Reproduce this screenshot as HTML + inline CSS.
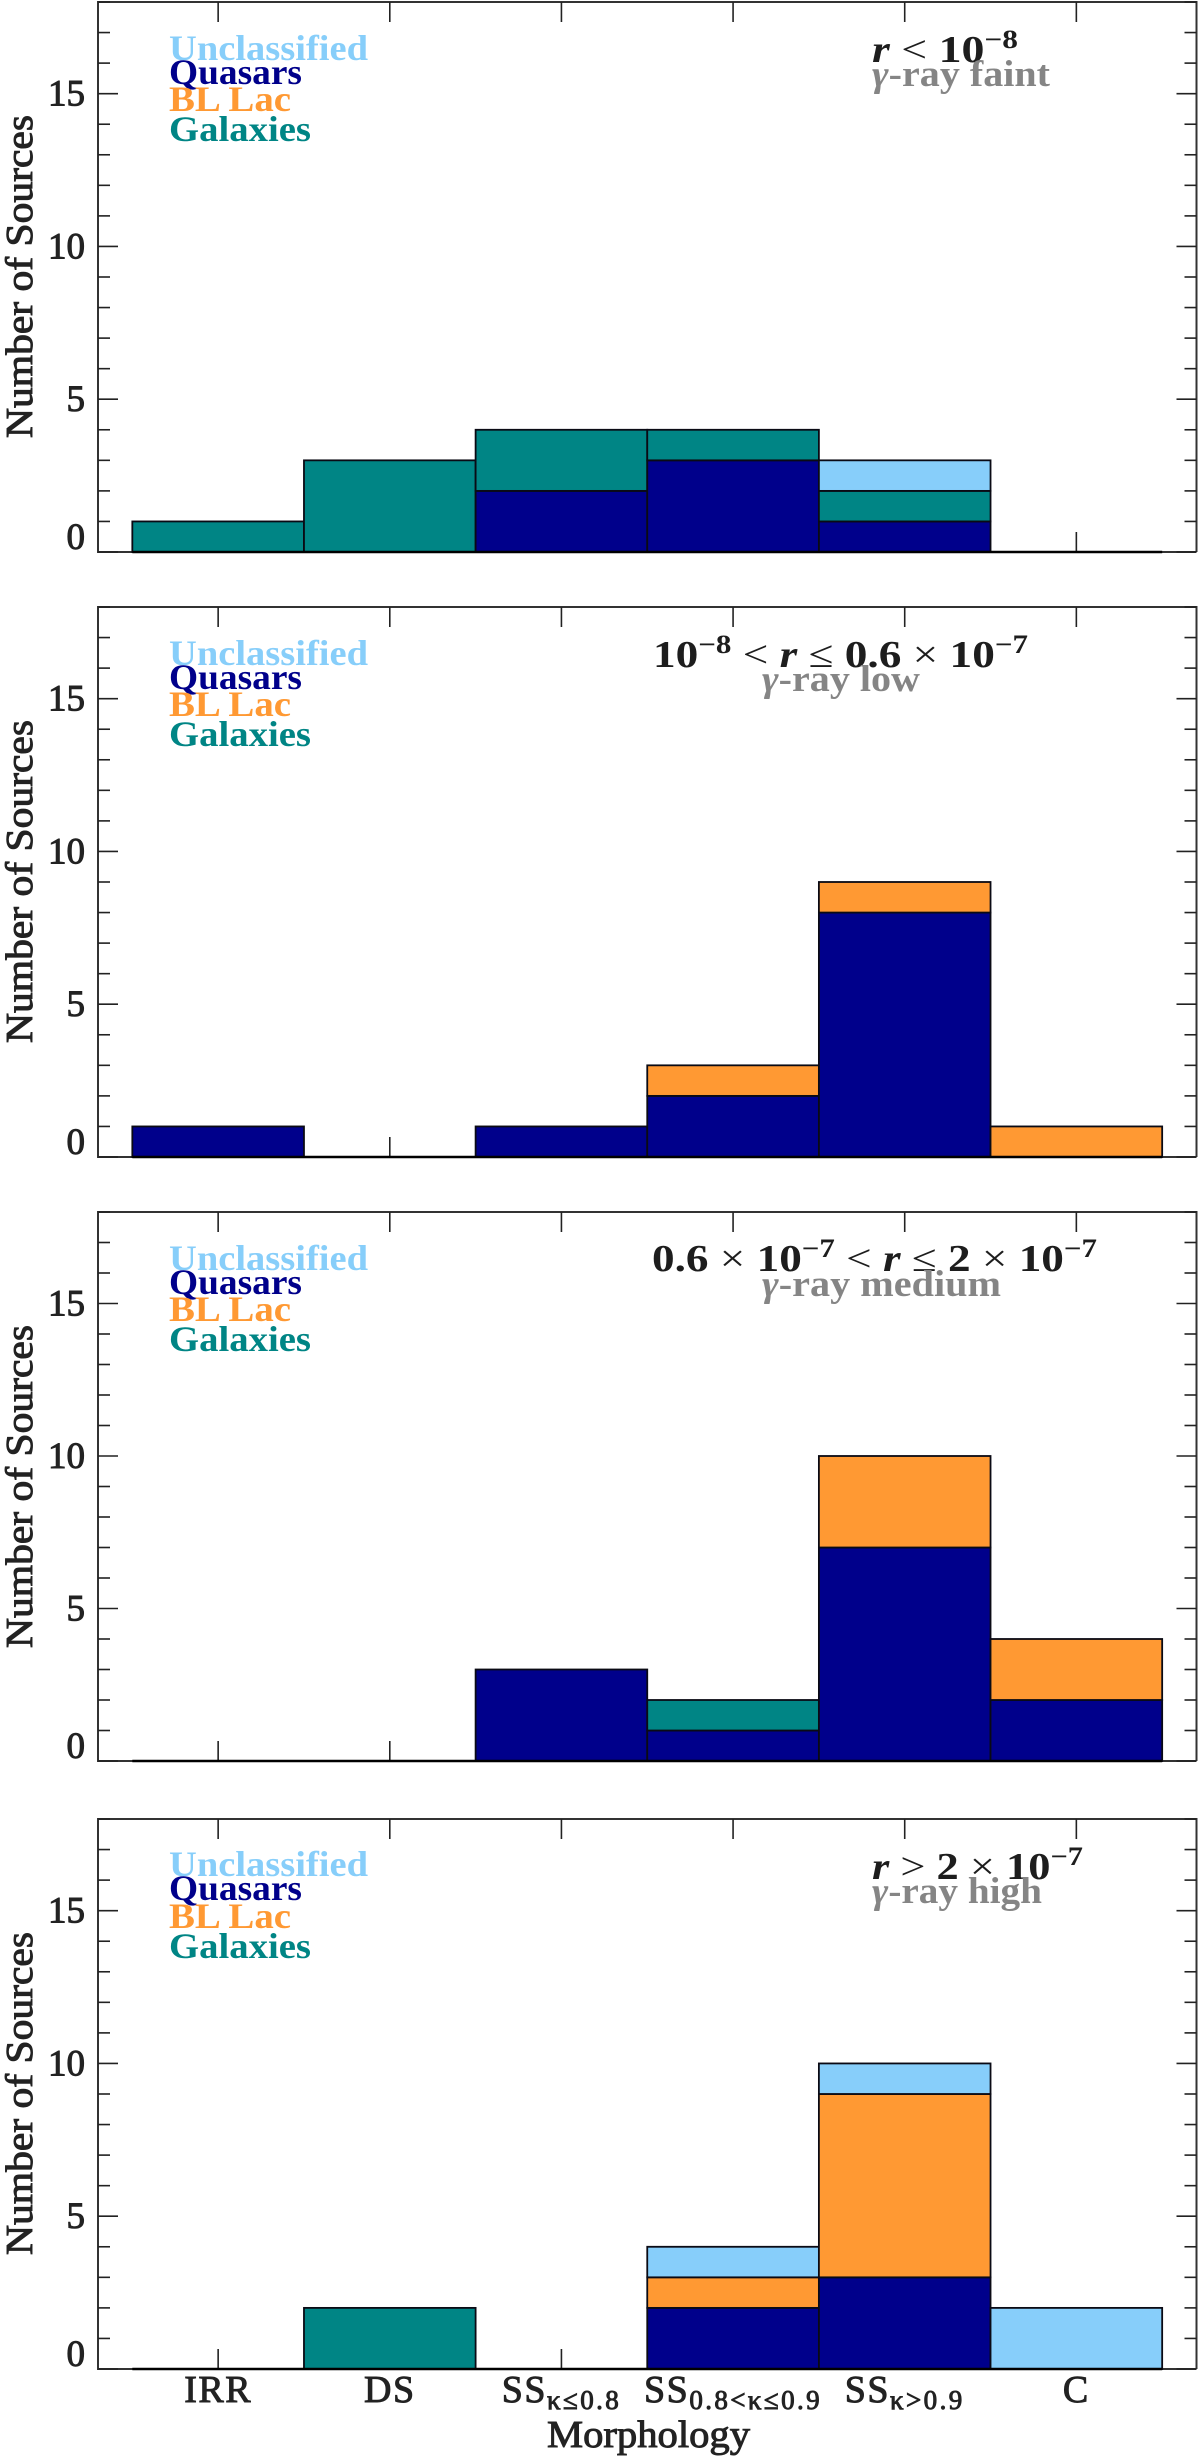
<!DOCTYPE html>
<html lang="en">
<head>
<meta charset="utf-8">
<title>Morphology histograms by gamma-ray class</title>
<style>
html,body{margin:0;padding:0;background:#fff;width:1200px;height:2457px;overflow:hidden}
svg{display:block}
text{font-family:"Liberation Serif",serif}
.leg{font-size:36px;font-weight:bold}
.ann{font-size:38px;font-weight:bold;fill:#1d1d1d}
.cls{font-size:37px;font-weight:bold;fill:#858585}
.sup{font-size:26px}
.mi{font-style:italic}
.rel{font-weight:normal}
.axt{font-size:38px;fill:#222;stroke:#222;stroke-width:.95}
.tick{font-size:37px;fill:#222;stroke:#222;stroke-width:1}
</style>
</head>
<body>
<svg id="chart" xmlns="http://www.w3.org/2000/svg" width="1200" height="2457" viewBox="0 0 1200 2457">
  <rect width="1200" height="2457" fill="#fff"/>
  <g id="panels"></g>

  <g transform="translate(0 1)">
    <text class="leg" x="169" y="59" textLength="199" lengthAdjust="spacingAndGlyphs" fill="#87CEFA">Unclassified</text>
    <text class="leg" x="169" y="83" textLength="133" lengthAdjust="spacingAndGlyphs" fill="#00008B">Quasars</text>
    <text class="leg" x="169" y="110" textLength="122" lengthAdjust="spacingAndGlyphs" fill="#FF9933">BL Lac</text>
    <text class="leg" x="169" y="140" textLength="142" lengthAdjust="spacingAndGlyphs" fill="#008585">Galaxies</text>
  </g>
  <g transform="translate(0 1)">
    <text class="leg" x="169" y="664" textLength="199" lengthAdjust="spacingAndGlyphs" fill="#87CEFA">Unclassified</text>
    <text class="leg" x="169" y="688" textLength="133" lengthAdjust="spacingAndGlyphs" fill="#00008B">Quasars</text>
    <text class="leg" x="169" y="715" textLength="122" lengthAdjust="spacingAndGlyphs" fill="#FF9933">BL Lac</text>
    <text class="leg" x="169" y="745" textLength="142" lengthAdjust="spacingAndGlyphs" fill="#008585">Galaxies</text>
  </g>
  <g transform="translate(0 1)">
    <text class="leg" x="169" y="1269" textLength="199" lengthAdjust="spacingAndGlyphs" fill="#87CEFA">Unclassified</text>
    <text class="leg" x="169" y="1293" textLength="133" lengthAdjust="spacingAndGlyphs" fill="#00008B">Quasars</text>
    <text class="leg" x="169" y="1320" textLength="122" lengthAdjust="spacingAndGlyphs" fill="#FF9933">BL Lac</text>
    <text class="leg" x="169" y="1350" textLength="142" lengthAdjust="spacingAndGlyphs" fill="#008585">Galaxies</text>
  </g>
  <g transform="translate(0 1)">
    <text class="leg" x="169" y="1875" textLength="199" lengthAdjust="spacingAndGlyphs" fill="#87CEFA">Unclassified</text>
    <text class="leg" x="169" y="1899" textLength="133" lengthAdjust="spacingAndGlyphs" fill="#00008B">Quasars</text>
    <text class="leg" x="169" y="1927" textLength="122" lengthAdjust="spacingAndGlyphs" fill="#FF9933">BL Lac</text>
    <text class="leg" x="169" y="1957" textLength="142" lengthAdjust="spacingAndGlyphs" fill="#008585">Galaxies</text>
  </g>

  <text class="ann" x="872" y="62" textLength="146" lengthAdjust="spacingAndGlyphs"><tspan class="mi">r</tspan> <tspan class="rel">&lt;</tspan> 10<tspan class="sup" dy="-14">−8</tspan></text>
  <text class="cls" x="872" y="86" textLength="178" lengthAdjust="spacingAndGlyphs"><tspan class="mi">γ</tspan>-ray faint</text>

  <text class="ann" x="653" y="667" textLength="375" lengthAdjust="spacingAndGlyphs">10<tspan class="sup" dy="-14">−8</tspan><tspan dy="14"> </tspan><tspan class="rel">&lt;</tspan> <tspan class="mi">r</tspan> <tspan class="rel">≤</tspan> 0.6 <tspan class="rel">×</tspan> 10<tspan class="sup" dy="-14">−7</tspan></text>
  <text class="cls" x="762" y="691" textLength="158" lengthAdjust="spacingAndGlyphs"><tspan class="mi">γ</tspan>-ray low</text>

  <text class="ann" x="652" y="1271" textLength="445" lengthAdjust="spacingAndGlyphs">0.6 <tspan class="rel">×</tspan> 10<tspan class="sup" dy="-14">−7</tspan><tspan dy="14"> </tspan><tspan class="rel">&lt;</tspan> <tspan class="mi">r</tspan> <tspan class="rel">≤</tspan> 2 <tspan class="rel">×</tspan> 10<tspan class="sup" dy="-14">−7</tspan></text>
  <text class="cls" x="762" y="1296" textLength="239" lengthAdjust="spacingAndGlyphs"><tspan class="mi">γ</tspan>-ray medium</text>

  <text class="ann" x="872" y="1879" textLength="211" lengthAdjust="spacingAndGlyphs"><tspan class="mi">r</tspan> <tspan class="rel">&gt;</tspan> 2 <tspan class="rel">×</tspan> 10<tspan class="sup" dy="-14">−7</tspan></text>
  <text class="cls" x="872" y="1903" textLength="170" lengthAdjust="spacingAndGlyphs"><tspan class="mi">γ</tspan>-ray high</text>

  <text class="axt" transform="translate(32 438) rotate(-90)" textLength="323" lengthAdjust="spacingAndGlyphs">Number of Sources</text>
  <text class="axt" transform="translate(32 1043) rotate(-90)" textLength="323" lengthAdjust="spacingAndGlyphs">Number of Sources</text>
  <text class="axt" transform="translate(32 1648) rotate(-90)" textLength="323" lengthAdjust="spacingAndGlyphs">Number of Sources</text>
  <text class="axt" transform="translate(32 2255) rotate(-90)" textLength="323" lengthAdjust="spacingAndGlyphs">Number of Sources</text>
  <text class="axt" x="547" y="2447" textLength="203" lengthAdjust="spacingAndGlyphs">Morphology</text>
</svg>

<script>
const categoryMain = ['IRR', 'DS', 'SS', 'SS', 'SS', 'C'];
const categorySub = ['', '', 'κ≤0.8', '0.8<κ≤0.9', 'κ>0.9', ''];
const yTickLabels = [0, 5, 10, 15];
const seriesNames = ['quasars', 'bl-lac', 'galaxies', 'unclassified'];

const panel1Quasars = [0, 0, 2, 3, 1, 0];
const panel1BlLac = [0, 0, 0, 0, 0, 0];
const panel1Galaxies = [1, 3, 2, 1, 1, 0];
const panel1Unclassified = [0, 0, 0, 0, 1, 0];

const panel2Quasars = [1, 0, 1, 2, 8, 0];
const panel2BlLac = [0, 0, 0, 1, 1, 1];
const panel2Galaxies = [0, 0, 0, 0, 0, 0];
const panel2Unclassified = [0, 0, 0, 0, 0, 0];

const panel3Quasars = [0, 0, 3, 1, 7, 2];
const panel3BlLac = [0, 0, 0, 0, 3, 2];
const panel3Galaxies = [0, 0, 0, 1, 0, 0];
const panel3Unclassified = [0, 0, 0, 0, 0, 0];

const panel4Quasars = [0, 0, 0, 2, 3, 0];
const panel4BlLac = [0, 0, 0, 1, 6, 0];
const panel4Galaxies = [0, 2, 0, 0, 0, 0];
const panel4Unclassified = [0, 0, 0, 1, 1, 2];

const panelSeries = [
  [panel1Quasars, panel1BlLac, panel1Galaxies, panel1Unclassified],
  [panel2Quasars, panel2BlLac, panel2Galaxies, panel2Unclassified],
  [panel3Quasars, panel3BlLac, panel3Galaxies, panel3Unclassified],
  [panel4Quasars, panel4BlLac, panel4Galaxies, panel4Unclassified]
];

const NS = 'http://www.w3.org/2000/svg';
const seriesFill = { 'quasars': '#00008B', 'bl-lac': '#FF9933', 'galaxies': '#008585', 'unclassified': '#87CEFA' };
const frameTop = [2, 607, 1212, 1819];
const frameBottom = [552, 1157, 1761, 2369];
const frameLeft = 98;
const frameRight = 1196.5;
const xMin = 0.3, xMax = 6.7, yMax = 18;

function xScale(v) {
  return frameLeft + (v - xMin) / (xMax - xMin) * (frameRight - frameLeft);
}
function yScale(v, p) {
  return frameBottom[p] - v / yMax * (frameBottom[p] - frameTop[p]);
}
function make(tag, attrs, parent) {
  const el = document.createElementNS(NS, tag);
  for (const k in attrs) el.setAttribute(k, attrs[k]);
  parent.appendChild(el);
  return el;
}

const root = document.getElementById('panels');
panelSeries.forEach(function (series, p) {
  const g = make('g', {}, root);
  
  

  const top = frameTop[p], bot = frameBottom[p];

  const frame = make('path', {
    d: 'M' + frameRight + ' ' + bot + 'H' + frameLeft + 'V' + top + 'H' + frameRight + 'V' + bot,
    fill: 'none', stroke: '#333', 'stroke-width': 2
  }, g);
  
  

  // y ticks, both sides
  for (let v = 0; v <= yMax; v++) {
    const y = yScale(v, p);
    const len = v % 5 === 0 && v < yMax ? 20 : 12;
    const tl = make('line', { x1: frameLeft, x2: frameLeft + len, y1: y, y2: y, stroke: '#222', 'stroke-width': 1.6 }, g);
    
    
    const tr = make('line', { x1: frameRight - len, x2: frameRight, y1: y, y2: y, stroke: '#222', 'stroke-width': 1.6 }, g);
    
    
  }

  yTickLabels.forEach(function (v) {
    const label = make('text', {
      x: 85, y: yScale(v, p) + 12 - (v === 0 ? 15 : 0), 'text-anchor': 'end', class: 'tick'
    }, g);
    label.textContent = String(v);
    
    
  });

  // x ticks, top and bottom
  categoryMain.forEach(function (name, i) {
    const x = xScale(i + 1);
    const a = make('line', { x1: x, x2: x, y1: top, y2: top + 20, stroke: '#222', 'stroke-width': 1.6 }, g);
    
    
    const b = make('line', { x1: x, x2: x, y1: bot - 20, y2: bot, stroke: '#222', 'stroke-width': 1.6 }, g);
    
    
  });

  // stacked bars
  categoryMain.forEach(function (name, i) {
    let base = 0;
    series.forEach(function (values, s) {
      const v = values[i];
      if (!v) return;
      const x0 = xScale(i + 0.5), x1 = xScale(i + 1.5);
      const y1 = yScale(base, p), y0 = yScale(base + v, p);
      const bar = make('rect', {
        x: x0, y: y0, width: x1 - x0, height: y1 - y0,
        fill: seriesFill[seriesNames[s]], stroke: '#0a0a14', 'stroke-width': 1.8
      }, g);
      
      
      base += v;
    });
  });

  const baseLine = make('line', {
    x1: xScale(0.5), x2: xScale(6.5), y1: yScale(0, p), y2: yScale(0, p), stroke: '#000', 'stroke-width': 2.6
  }, g);
  
  
});

// x category labels under the last panel
categoryMain.forEach(function (name, i) {
  const t = make('text', {
    x: xScale(i + 1), y: 2402, 'text-anchor': 'middle', class: 'axt', 'letter-spacing': '1.5'
  }, root);
  
  
  t.appendChild(document.createTextNode(name));
  if (categorySub[i]) {
    const sub = make('tspan', { dy: 7, 'font-size': 27, 'letter-spacing': '2.4' }, t);
    sub.textContent = categorySub[i];
  }
});
</script>
</body>
</html>
